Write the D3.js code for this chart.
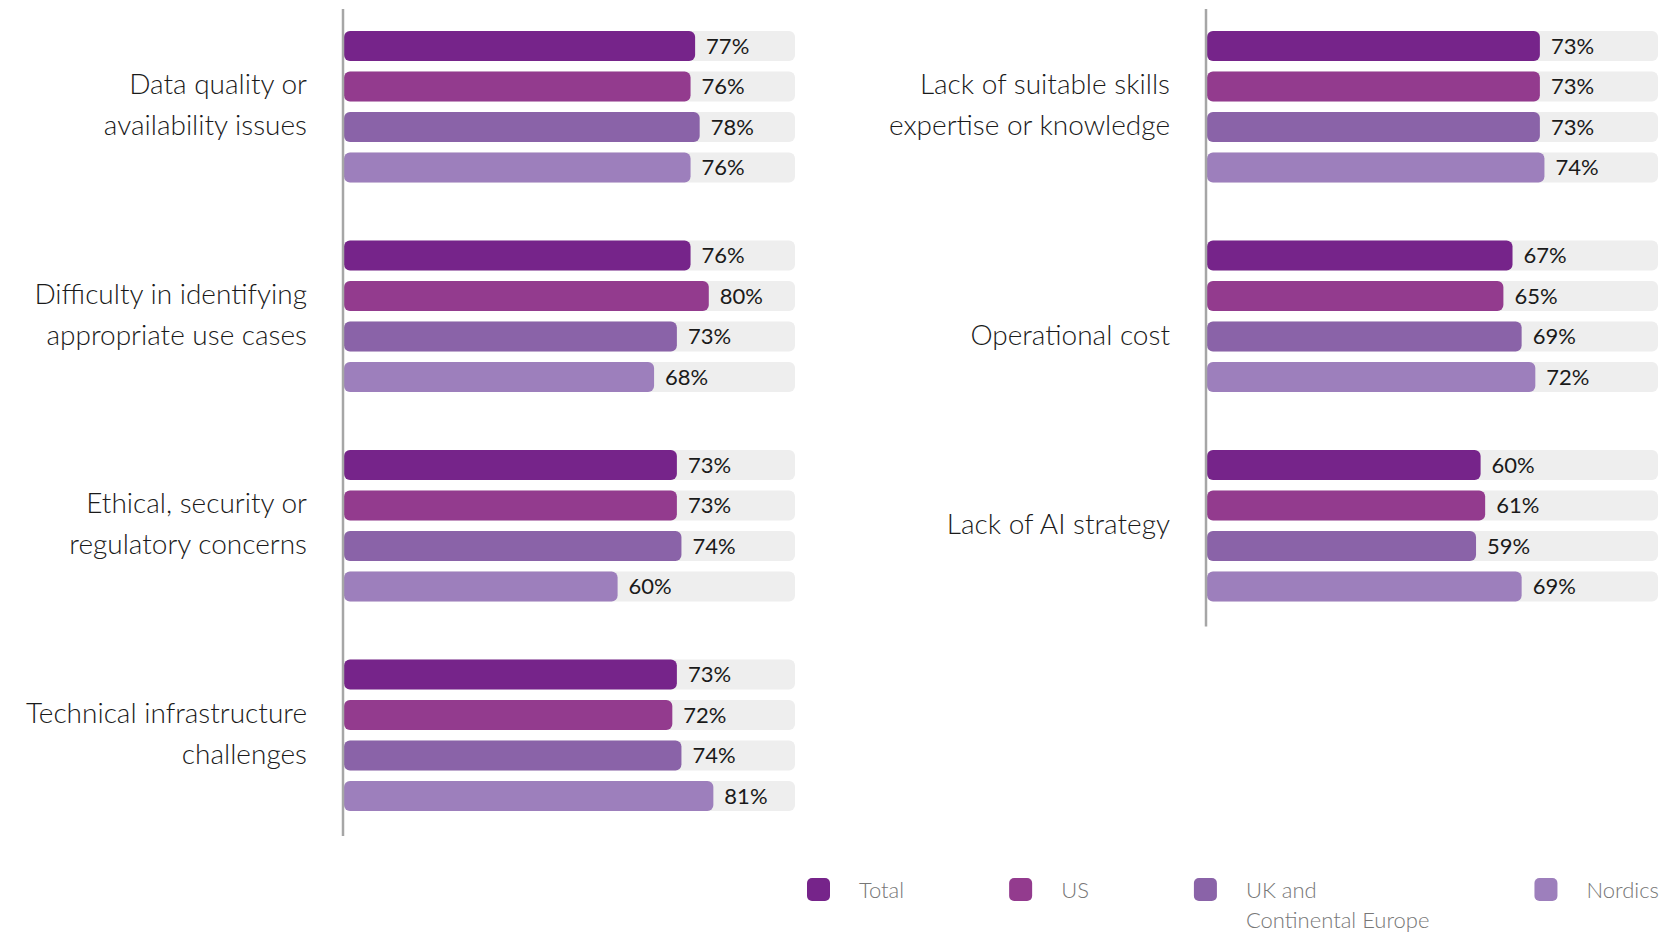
<!DOCTYPE html>
<meta charset="utf-8">
<head>
    <title>Barriers to AI adoption</title>
    <script src="https://d3js.org/d3.v7.min.js"></script>
    <style>
        body {
            margin: 0;
            background: #fff;
        }

        svg text {
            font-family: "Lato", "Open Sans", sans-serif;
        }

        .cat-label {
            font-size: 28px;
            font-weight: 300;
            fill: #1a1a1a;
        }

        .value-label {
            font-size: 22px;
            fill: #1a1a1a;
        }

        .legend-text {
            font-size: 22px;
            font-weight: 300;
            fill: #777;
        }
    </style>
</head>

<body>
<div id="chart"></div>

<script>
    // categories, split over the two columns ("\n" = line break in the label)
    var leftCategories = [
        "Data quality or\navailability issues",
        "Difficulty in identifying\nappropriate use cases",
        "Ethical, security or\nregulatory concerns",
        "Technical infrastructure\nchallenges"
    ];
    var rightCategories = [
        "Lack of suitable skills\nexpertise or knowledge",
        "\nOperational cost",
        "Lack of AI strategy"
    ];

    var seriesNames = ["Total", "US", "UK and\nContinental Europe", "Nordics"];
    var seriesColors = ["#76248a", "#933b8e", "#8a63a8", "#9d7fbc"];

    // values in %, same order as leftCategories then rightCategories
    var totalValues = [77, 76, 73, 73, 73, 67, 60];
    var usValues = [76, 80, 73, 72, 73, 65, 61];
    var ukValues = [78, 73, 74, 74, 73, 69, 59];
    var nordicsValues = [76, 68, 60, 81, 74, 72, 69];

    var allSeries = [totalValues, usValues, ukValues, nordicsValues];

    var width = 1680,
        height = 932;

    var svg = d3.select("#chart")
        .append("svg")
        .attr("width", width)
        .attr("height", height);

    // horizontal scale, shared by both columns
    var x = d3.scaleLinear()
        .domain([0, 100])
        .range([0, 456]);

    // group position (by index) and bar position inside a group
    var yGroup = d3.scaleBand()
        .domain([0, 1, 2, 3])
        .range([31, 811])
        .paddingInner(0.277);

    var yBar = d3.scaleBand()
        .domain(d3.range(seriesNames.length))
        .range([0, yGroup.bandwidth()])
        .paddingInner(0.26);

    var panels = [
        {x0: 344, categories: leftCategories, offset: 0},
        {x0: 1207, categories: rightCategories, offset: leftCategories.length}
    ];

    panels.forEach(function (p) {
        var g = svg.append("g")
            .attr("transform", "translate(" + p.x0 + ",0)");

        var rows = p.categories.map(function (c, i) {
            return {label: c, index: i, dataIndex: p.offset + i};
        });

        var groups = g.selectAll(".group")
            .data(rows)
            .enter()
            .append("g")
            .attr("class", "group")
            .attr("transform", function (d) {
                return "translate(0," + yGroup(d.index) + ")";
            });

        var bars = groups.selectAll(".bar")
            .data(function (d) {
                return allSeries.map(function (s, k) {
                    return {series: k, value: s[d.dataIndex]};
                });
            })
            .enter()
            .append("g")
            .attr("class", "bar");

        // grey track
        bars.append("rect")
            .attr("x", 0)
            .attr("y", function (d) { return yBar(d.series); })
            .attr("width", x(100) - 5)
            .attr("height", yBar.bandwidth())
            .attr("rx", 6)
            .attr("fill", "#eeeeee");

        bars.append("rect")
            .attr("x", 0)
            .attr("y", function (d) { return yBar(d.series); })
            .attr("width", function (d) { return x(d.value); })
            .attr("height", yBar.bandwidth())
            .attr("rx", 6)
            .attr("fill", function (d) { return seriesColors[d.series]; });

        bars.append("text")
            .attr("class", "value-label")
            .attr("x", function (d) { return x(d.value) + 11; })
            .attr("y", function (d) { return yBar(d.series) + yBar.bandwidth() / 2; })
            .attr("dy", "0.36em")
            .text(function (d) { return d.value + "%"; });

        // category labels, right aligned left of the axis
        groups.append("text")
            .attr("class", "cat-label")
            .attr("text-anchor", "end")
            .each(function (d) {
                var lines = d.label.split("\n");
                var center = yGroup.bandwidth() / 2;
                var t = d3.select(this);
                lines.forEach(function (line, k) {
                    t.append("tspan")
                        .attr("x", -37)
                        .attr("y", center + 8 + (k - (lines.length - 1) / 2) * 41)
                        .text(line);
                });
            });

        // axis line
        var last = p.categories.length - 1;
        g.append("line")
            .attr("x1", -1)
            .attr("x2", -1)
            .attr("y1", yGroup(0) - 22)
            .attr("y2", yGroup(last) + yGroup.bandwidth() + 25)
            .style("stroke", "#a6a6a6")
            .style("stroke-width", 2.5);
    });

    // Legend
    var legend = svg.append("g")
        .attr("transform", "translate(807, 878)");

    var cursor = 0;
    seriesNames.forEach(function (name, i) {
        var item = legend.append("g")
            .attr("transform", "translate(" + cursor + ",0)");

        item.append("rect")
            .attr("width", 23)
            .attr("height", 23)
            .attr("rx", 5)
            .attr("fill", seriesColors[i]);

        var txt = item.append("text")
            .attr("class", "legend-text");
        name.split("\n").forEach(function (line, k) {
            txt.append("tspan")
                .attr("x", 52)
                .attr("y", 20 + k * 30)
                .text(line);
        });

        var w = d3.max(txt.selectAll("tspan").nodes(), function (n) {
            return n.getComputedTextLength();
        });
        cursor += 52 + w + 105;
    });
</script>
</body>
